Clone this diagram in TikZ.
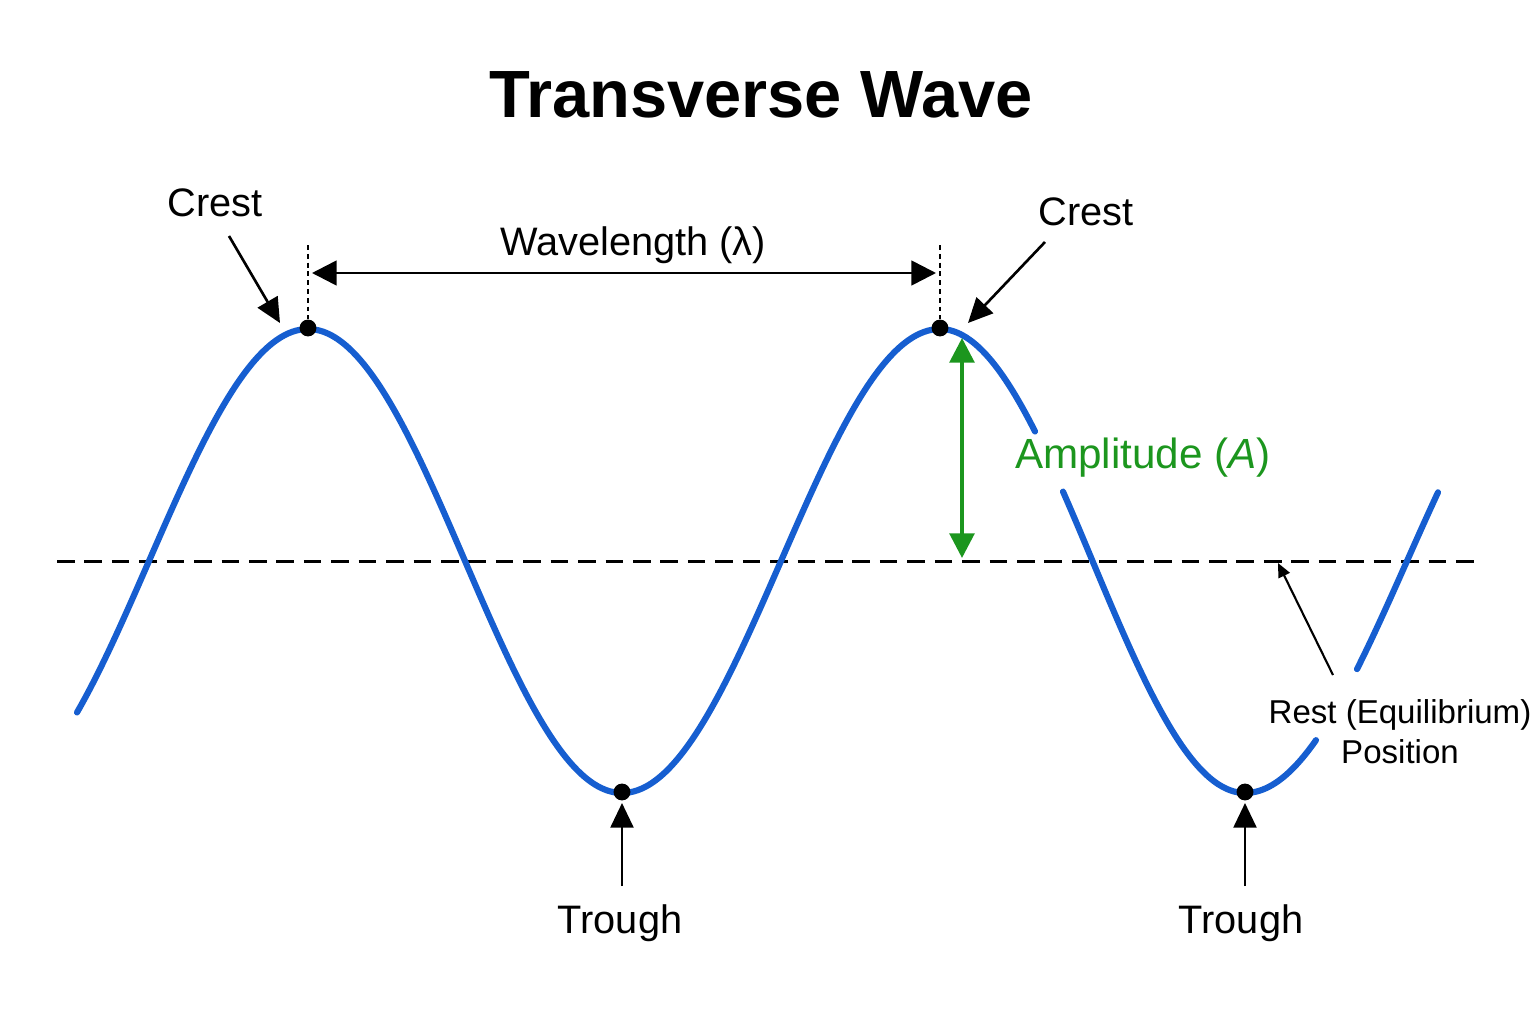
\documentclass[tikz,border=0pt]{standalone}
\usepackage{fontspec}
\setmainfont{Liberation Sans}
\usetikzlibrary{arrows.meta}
\definecolor{waveblue}{RGB}{22,94,208}
\definecolor{ampgreen}{RGB}{28,150,30}
\begin{document}
\begin{tikzpicture}[x=0.01cm,y=-0.01cm,
  wave/.style={waveblue,line width=1.75pt,line cap=round,line join=round},
  lbl/.style={font=\fontsize{11.3}{13}\selectfont,inner sep=0pt,anchor=base},
  ptr/.style={black,line width=0.75pt,-{Triangle[length=7pt,width=6.5pt]}},
  guide/.style={black,line width=0.7pt,dash pattern=on 1.4pt off 1.1pt},
  eqline/.style={black,line width=0.85pt,dash pattern=on 5pt off 2.8pt},
  dot/.style={circle,fill=black,inner sep=0pt,minimum size=4.8pt}]
\useasboundingbox (0,0) rectangle (1536,1024);

% equilibrium line
\coordinate (eqL) at (57,561);
\coordinate (eqR) at (1477,561);
\draw[eqline] (eqL) -- (eqR);

% wave, piecewise half-cosines
\draw[wave] plot[domain=77:308,samples=60,smooth] (\x,{561-232*cos((\x-308)/318*180)});
\draw[wave] plot[domain=308:622,samples=80,smooth] (\x,{561-232*cos((\x-308)/314*180)});
\draw[wave] plot[domain=622:940,samples=80,smooth] (\x,{561+232*cos((\x-622)/318*180)});
\draw[wave] plot[domain=940:1035,samples=30,smooth] (\x,{561-232*cos((\x-940)/305*180)});
\draw[wave] plot[domain=1063:1245,samples=50,smooth] (\x,{561-232*cos((\x-940)/305*180)});
\draw[wave] plot[domain=1245:1316,samples=25,smooth] (\x,{561+232*cos((\x-1245)/324*180)});
\draw[wave] plot[domain=1357:1438,samples=30,smooth] (\x,{561+232*cos((\x-1245)/324*180)});

% points
\node[dot] (crest1) at (308,328) {};
\node[dot] (crest2) at (940,328) {};
\node[dot] (trough1) at (622,792) {};
\node[dot] (trough2) at (1245,792) {};

% title
\node[font=\fontsize{19}{22}\selectfont\bfseries,inner sep=0pt,anchor=base] (title) at (761,117) {Transverse Wave};

% wavelength
\coordinate (g1top) at (308,245);
\coordinate (g2top) at (940,245);
\draw[guide] (g1top) -- (crest1);
\draw[guide] (g2top) -- (crest2);
\coordinate (wlL) at (312,273);
\coordinate (wlR) at (936,273);
\draw[black,line width=0.75pt,{Triangle[length=7pt,width=7pt]}-{Triangle[length=7pt,width=7pt]}] (wlL) -- (wlR);
\node[lbl] (wl) at (633,255) {Wavelength (λ)};

% crests
\node[lbl] (crestL) at (215,216) {Crest};
\node[lbl] (crestR) at (1086,225) {Crest};
\coordinate (cLt) at (229,236);
\coordinate (cLh) at (280,323);
\coordinate (cRt) at (1045,242);
\coordinate (cRh) at (968,323);
\draw[ptr] (cLt) -- (cLh);
\draw[ptr] (cRt) -- (cRh);

% troughs
\node[lbl] (troughL) at (620,933) {Trough};
\node[lbl] (troughR) at (1241,933) {Trough};
\coordinate (t1t) at (622,886);
\coordinate (t1h) at (622,803);
\coordinate (t2t) at (1245,886);
\coordinate (t2h) at (1245,803);
\draw[ptr] (t1t) -- (t1h);
\draw[ptr] (t2t) -- (t2h);

% amplitude
\coordinate (ampT) at (962,338);
\coordinate (ampB) at (962,558);
\draw[ampgreen,line width=1.1pt,{Triangle[length=7pt,width=7pt]}-{Triangle[length=7pt,width=7pt]}] (ampT) -- (ampB);
\node[font=\fontsize{12}{14}\selectfont,text=ampgreen,inner sep=0pt,anchor=base] (amp) at (1143,468) {Amplitude (\textit{A})};

% rest position
\node[font=\fontsize{9.4}{11.4}\selectfont,inner sep=0pt,align=center] (rest) at (1400,732) {Rest (Equilibrium)\\Position};
\coordinate (rt) at (1333,675);
\coordinate (rh) at (1278,563);
\draw[black,line width=0.6pt,-{Triangle[length=4pt,width=3.5pt]}] (rt) -- (rh);
\end{tikzpicture}
\end{document}
